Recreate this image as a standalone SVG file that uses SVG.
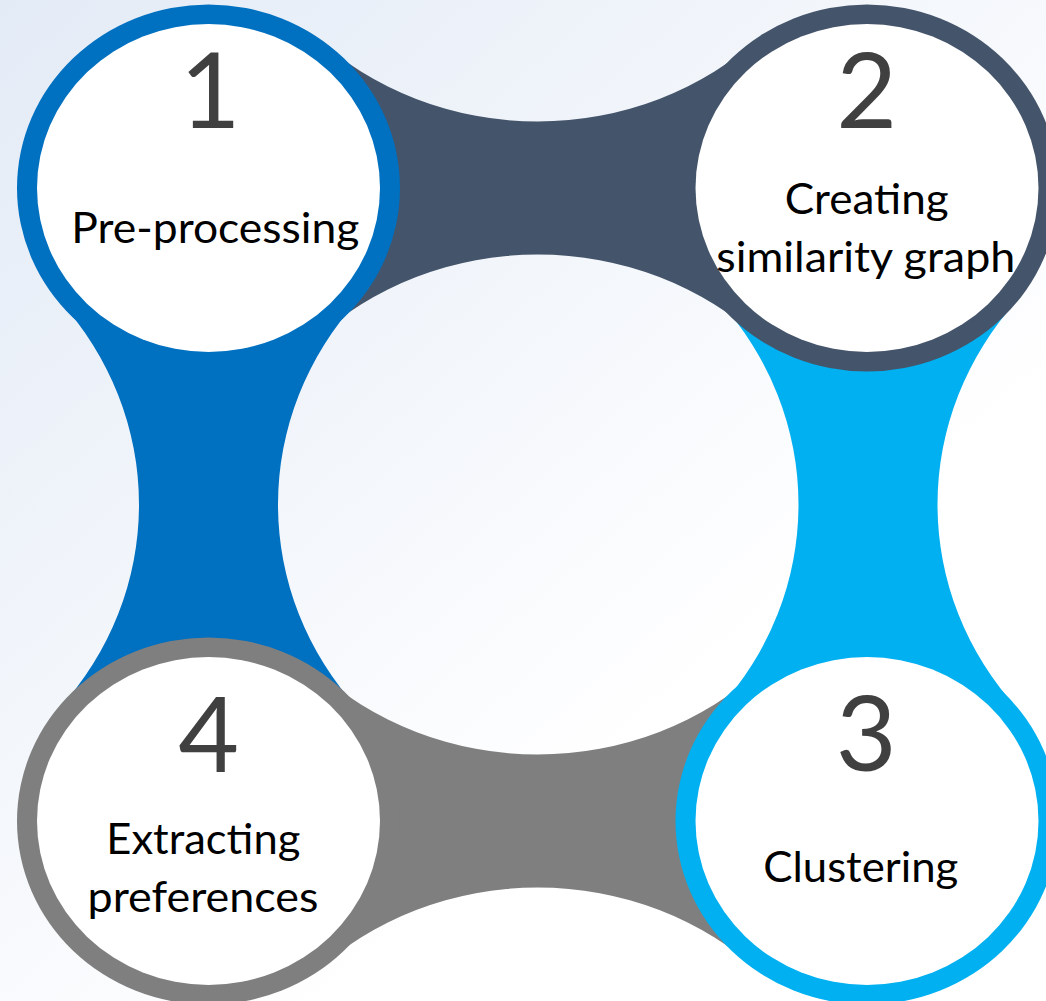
<svg xmlns="http://www.w3.org/2000/svg" width="1046" height="1001" viewBox="0 0 1046 1001">
  <defs>
    <linearGradient id="bg" gradientUnits="userSpaceOnUse" x1="0" y1="0" x2="650" y2="750">
      <stop offset="0" stop-color="#e3ebf6"/>
      <stop offset="1" stop-color="#ffffff"/>
    </linearGradient>
    <style>
      .face { fill: #ffffff; }
      .num { font-family: Lato, "Open Sans", "Liberation Sans", sans-serif; font-weight: 400; font-size: 105px; fill: #404040; text-anchor: middle; }
      .label { font-family: Lato, "Open Sans", "Liberation Sans", sans-serif; font-size: 42px; fill: #000000; text-anchor: middle; }
      .c-blue { fill: #0070C0; }
      .c-slate { fill: #44546A; }
      .c-sky { fill: #00B0F0; }
      .c-grey { fill: #7F7F7F; }
    </style>
  </defs>

  <!-- backdrop -->
  <rect width="1046" height="1001" fill="url(#bg)"/>

  <!-- concave bands linking neighbouring steps; edges are arcs of rx325/ry311 ellipses -->
  <g id="connectors">
    <path id="link-1-2" class="c-slate" d="M312.25,34.45 A325,311 0 0 0 763.25,34.45 L763.25,341.55 A325,311 0 0 0 312.25,341.55 Z"/>
    <path id="link-2-3" class="c-sky" d="M717.9,299.5 A325,311 0 0 1 717.9,709.5 L1018.1,709.5 A325,311 0 0 1 1018.1,299.5 Z"/>
    <path id="link-3-4" class="c-grey" d="M312.25,667.45 A325,311 0 0 0 763.25,667.45 L763.25,974.55 A325,311 0 0 0 312.25,974.55 Z"/>
    <path id="link-4-1" class="c-blue" d="M58.4,299.5 A325,311 0 0 1 58.4,709.5 L358.6,709.5 A325,311 0 0 1 358.6,299.5 Z"/>
  </g>

  <!-- step 1 -->
  <g id="step-1">
    <ellipse class="c-blue" cx="208.5" cy="188" rx="191.5" ry="183.5"/>
    <ellipse class="face" cx="208.5" cy="188" rx="171.5" ry="164"/>
    <text class="num" x="210.3" y="128.3">1</text>
    <text class="label" x="215.3" y="243.3" textLength="288" lengthAdjust="spacingAndGlyphs">Pre-processing</text>
  </g>

  <!-- step 2 -->
  <g id="step-2">
    <ellipse class="c-slate" cx="867" cy="188" rx="191.5" ry="183.5"/>
    <ellipse class="face" cx="867" cy="188" rx="171.5" ry="164"/>
    <text class="num" x="866.7" y="128.3">2</text>
    <text class="label" x="866.7" y="213.5" textLength="164" lengthAdjust="spacingAndGlyphs">Creating</text>
    <text class="label" x="865.8" y="271.7" textLength="299" lengthAdjust="spacingAndGlyphs">similarity graph</text>
  </g>

  <!-- step 3 -->
  <g id="step-3">
    <ellipse class="c-sky" cx="867" cy="821" rx="191.5" ry="183.5"/>
    <ellipse class="face" cx="867" cy="821" rx="171.5" ry="164"/>
    <text class="num" x="866.2" y="771">3</text>
    <text class="label" x="860.8" y="881.7" textLength="195" lengthAdjust="spacingAndGlyphs">Clustering</text>
  </g>

  <!-- step 4 -->
  <g id="step-4">
    <ellipse class="c-grey" cx="208.5" cy="821" rx="191.5" ry="183.5"/>
    <ellipse class="face" cx="208.5" cy="821" rx="171.5" ry="164"/>
    <text class="num" x="208.8" y="771.7">4</text>
    <text class="label" x="203.3" y="854.3" textLength="194" lengthAdjust="spacingAndGlyphs">Extracting</text>
    <text class="label" x="203" y="911.7" textLength="231" lengthAdjust="spacingAndGlyphs">preferences</text>
  </g>
</svg>
